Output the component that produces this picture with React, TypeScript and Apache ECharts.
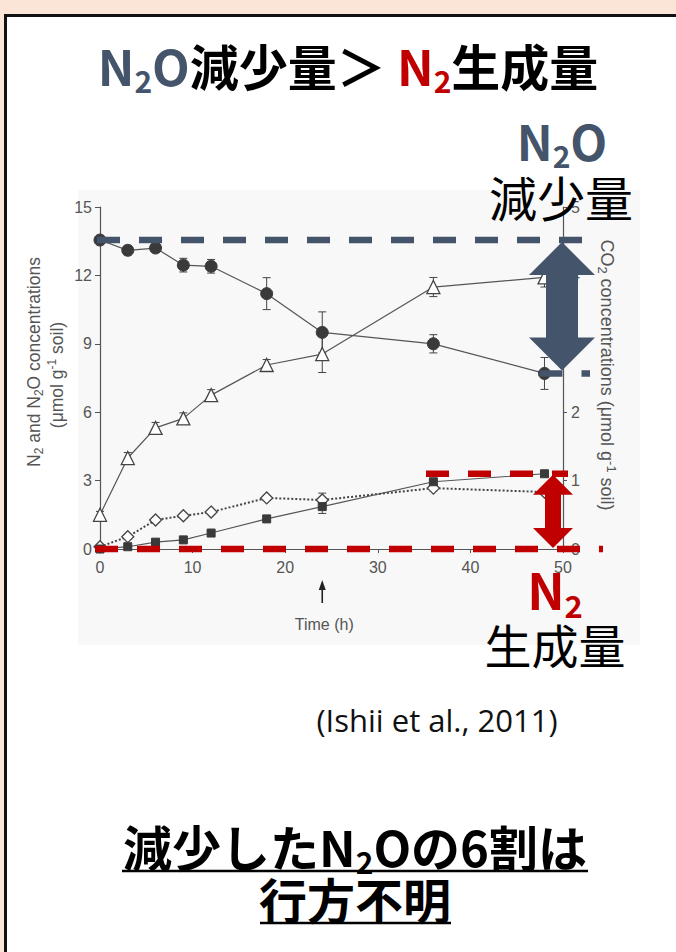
import React, { useEffect, useRef } from "react";
import * as echarts from "echarts";

// ---- data ----
const timeH = [0, 3, 6, 9, 12, 18, 24, 36, 48];
const n2oConc = [13.55, 13.1, 13.2, 12.45, 12.4, 11.2, 9.5, 9.0, 7.7];
const n2oErr = [0.1, 0.2, 0.15, 0.3, 0.3, 0.7, 0.9, 0.4, 0.7];
const co2Conc = [0.5, 1.33, 1.77, 1.91, 2.25, 2.69, 2.85, 3.83, 3.97];
const co2Err = [0.05, 0.08, 0.08, 0.08, 0.08, 0.08, 0.27, 0.14, 0.14];
const diamondConc = [0.1, 0.54, 1.27, 1.46, 1.62, 2.24, 2.15, 2.67, 2.5];
const diamondErr = [0.05, 0.1, 0.1, 0.1, 0.1, 0.1, 0.3, 0.12, 0.1];
const n2Conc = [0, 0.1, 0.3, 0.4, 0.7, 1.32, 1.86, 2.95, 3.3];
const n2Err = [0, 0.05, 0.05, 0.05, 0.08, 0.1, 0.3, 0.12, 0.12];
const markedTime = 24;

const BLUE = "#44546A";
const RED = "#C00000";
const CJK = '"Noto Sans CJK JP", "Noto Sans", sans-serif';
const SANS = '"Liberation Sans", Arial, sans-serif';
const AX = "#555";

function errorSeries(vals: number[], errs: number[], yAxisIndex: number) {
  return {
    type: "custom",
    yAxisIndex,
    silent: true,
    z: 3,
    data: timeH.map((t, i) => [t, vals[i] - errs[i], vals[i] + errs[i]]),
    renderItem: (_p: any, api: any) => {
      const x = api.value(0);
      const a = api.coord([x, api.value(1)]);
      const b = api.coord([x, api.value(2)]);
      const w = 4;
      const st = { stroke: "#444", lineWidth: 1 };
      return {
        type: "group",
        children: [
          { type: "line", shape: { x1: a[0], y1: a[1], x2: b[0], y2: b[1] }, style: st },
          { type: "line", shape: { x1: a[0] - w, y1: a[1], x2: a[0] + w, y2: a[1] }, style: st },
          { type: "line", shape: { x1: b[0] - w, y1: b[1], x2: b[0] + w, y2: b[1] }, style: st },
        ],
      };
    },
  };
}

function rs(size: number, color: string, weight: string, kind: "main" | "sub" | "sup" = "main") {
  if (kind === "main") {
    return { fontSize: size, fontFamily: CJK, fontWeight: weight, fill: color, color, lineHeight: Math.round(size * 1.25), verticalAlign: "middle" };
  }
  const s = Math.round(size * 0.62);
  return { fontSize: s, fontFamily: CJK, fontWeight: weight, fill: color, color, lineHeight: s, verticalAlign: kind === "sub" ? "bottom" : "top" };
}

function rsSans(size: number, kind: "main" | "sub" | "sup" = "main") {
  if (kind === "main") return { fontSize: size, fontFamily: SANS, fill: AX, color: AX, lineHeight: size + 4, verticalAlign: "middle" };
  const s = Math.round(size * 0.7);
  return { fontSize: s, fontFamily: SANS, fill: AX, color: AX, lineHeight: s, verticalAlign: kind === "sub" ? "bottom" : "top" };
}

export default function App() {
  const ref = useRef<HTMLDivElement>(null);

  useEffect(() => {
    if (!ref.current) return;
    const chart = echarts.init(ref.current, null, { renderer: "svg", width: 676, height: 952 });
    const axisLabel = { color: AX, fontFamily: SANS, fontSize: 16 };
    chart.setOption({
      animation: false,
      grid: { left: 100, right: 113, top: 207, bottom: 403, containLabel: false, outerBoundsMode: "none" },
      xAxis: {
        type: "value", min: 0, max: 50, interval: 10,
        axisLine: { lineStyle: { color: AX, width: 1.2 } },
        axisTick: { show: true, length: 4, lineStyle: { color: AX } },
        axisLabel: { ...axisLabel, margin: 10 },
        splitLine: { show: false },
      },
      yAxis: [
        {
          type: "value", min: 0, max: 15, interval: 3, position: "left",
          axisLine: { show: true, lineStyle: { color: AX, width: 1.2 } },
          axisTick: { show: true, length: 5, lineStyle: { color: AX } },
          axisLabel: { ...axisLabel, margin: 8 },
          splitLine: { show: false },
        },
        {
          type: "value", min: 0, max: 5, interval: 1, position: "right",
          axisLine: { show: true, lineStyle: { color: AX, width: 1.2 } },
          axisTick: { show: true, length: 4, lineStyle: { color: AX } },
          axisLabel: { ...axisLabel, margin: 8 },
          splitLine: { show: false },
        },
      ],
      series: [
        errorSeries(n2oConc, n2oErr, 0),
        errorSeries(co2Conc, co2Err, 1),
        errorSeries(diamondConc, diamondErr, 0),
        errorSeries(n2Conc, n2Err, 0),
        {
          type: "line", name: "N2O", data: timeH.map((t, i) => [t, n2oConc[i]]),
          symbol: "circle", symbolSize: 12, z: 4,
          itemStyle: { color: "#3a3a3a", borderColor: "#3a3a3a" },
          lineStyle: { color: "#555", width: 1.2 },
        },
        {
          type: "line", name: "CO2", yAxisIndex: 1, data: timeH.map((t, i) => [t, co2Conc[i]]),
          symbol: "triangle", symbolSize: 13, z: 4,
          itemStyle: { color: "#fff", borderColor: "#444", borderWidth: 1.3 },
          lineStyle: { color: "#555", width: 1.2 },
        },
        {
          type: "line", name: "open", data: timeH.map((t, i) => [t, diamondConc[i]]),
          symbol: "diamond", symbolSize: 12, z: 4,
          itemStyle: { color: "#fff", borderColor: "#444", borderWidth: 1.3 },
          lineStyle: { color: "#444", width: 2, type: "dotted" },
        },
        {
          type: "line", name: "N2", data: timeH.map((t, i) => [t, n2Conc[i]]),
          symbol: "rect", symbolSize: 8, z: 4,
          itemStyle: { color: "#3a3a3a", borderColor: "#3a3a3a" },
          lineStyle: { color: "#555", width: 1.2 },
        },
      ],
    });

    const px = (x: number, y: number) => chart.convertToPixel({ gridIndex: 0 } as any, [x, y]) as number[];
    const last = timeH.length - 1;
    const [x0, y0] = px(0, 0);
    const x50 = px(50, 0)[0];
    const yTop = px(0, n2oConc[0])[1];
    const yBot = px(0, n2oConc[last])[1];
    const yN2 = px(0, n2Conc[last])[1];
    const x48 = px(timeH[last], 0)[0];
    const xMark = px(markedTime, 0)[0];

    // blue double arrow
    const bc = x50 - 1, bt = yTop + 2, bb = yBot - 3, bh = 33, bw = 16, bhw = 33;
    const blueArrow = [
      [bc, bt], [bc + bhw, bt + bh], [bc + bw, bt + bh], [bc + bw, bb - bh], [bc + bhw, bb - bh],
      [bc, bb], [bc - bhw, bb - bh], [bc - bw, bb - bh], [bc - bw, bt + bh], [bc - bhw, bt + bh],
    ];
    const rc = x50 - 10, rt = yN2 + 1, rb = y0 - 1, rh = 20, rw = 8, rhw = 20;
    const redArrow = [
      [rc, rt], [rc + rhw, rt + rh], [rc + rw, rt + rh], [rc + rw, rb - rh], [rc + rhw, rb - rh],
      [rc, rb], [rc - rhw, rb - rh], [rc - rw, rb - rh], [rc - rw, rt + rh], [rc - rhw, rt + rh],
    ];

    const graphic: any[] = [
      // dashed guide lines
      { type: "line", z: 100, shape: { x1: x0 - 3, y1: yTop, x2: x50 + 19, y2: yTop }, style: { stroke: BLUE, lineWidth: 6.5, lineDash: [23, 19] } },
      { type: "line", z: 100, shape: { x1: x48 - 5, y1: yBot, x2: x50 + 27, y2: yBot }, style: { stroke: BLUE, lineWidth: 6.5, lineDash: [23, 19] } },
      { type: "line", z: 100, shape: { x1: x0 - 5, y1: y0, x2: x50 + 40, y2: y0 }, style: { stroke: RED, lineWidth: 6.5, lineDash: [23, 19] } },
      { type: "line", z: 100, shape: { x1: x50 - 137, y1: yN2, x2: x50 + 5, y2: yN2 }, style: { stroke: RED, lineWidth: 6.5, lineDash: [23, 19] } },
      { type: "polygon", z: 101, shape: { points: blueArrow }, style: { fill: BLUE } },
      { type: "polygon", z: 101, shape: { points: redArrow }, style: { fill: RED } },
      // time marker arrow
      { type: "line", z: 100, shape: { x1: xMark, y1: 603, x2: xMark, y2: 588 }, style: { stroke: "#222", lineWidth: 1.6 } },
      { type: "polygon", z: 100, shape: { points: [[xMark, 580], [xMark - 3.5, 590], [xMark + 3.5, 590]] }, style: { fill: "#222" } },
      {
        type: "text", z: 100, x: xMark + 2, y: 624,
        style: { text: "Time (h)", fontFamily: SANS, fontSize: 16, fill: AX, align: "center", verticalAlign: "middle" },
      },
      // axis names
      {
        type: "text", z: 100, x: 34, y: 362, rotation: Math.PI / 2,
        style: {
          text: "{m|N}{s|2}{m| and N}{s|2}{m|O concentrations}",
          rich: { m: rsSans(17.5), s: rsSans(17.5, "sub") }, align: "center", verticalAlign: "middle",
        },
      },
      {
        type: "text", z: 100, x: 57, y: 375, rotation: Math.PI / 2,
        style: {
          text: "{m|(μmol g}{u|-1}{m| soil)}",
          rich: { m: rsSans(17.5), u: rsSans(17.5, "sup") }, align: "center", verticalAlign: "middle",
        },
      },
      {
        type: "text", z: 100, x: 607, y: 375, rotation: -Math.PI / 2,
        style: {
          text: "{m|CO}{s|2}{m| concentrations (μmol g}{u|-1}{m| soil)}",
          rich: { m: rsSans(18), s: rsSans(18, "sub"), u: rsSans(18, "sup") }, align: "center", verticalAlign: "middle",
        },
      },
      // title
      {
        type: "text", z: 100, x: 348, y: 64,
        style: {
          text: "{b|N}{bs|2}{b|O}{k|減少量＞ }{r|N}{rs|2}{k|生成量}",
          rich: {
            b: rs(49, BLUE, "bold"), bs: rs(49, BLUE, "bold", "sub"),
            k: rs(49, "#000", "bold"), r: rs(49, RED, "bold"), rs: rs(49, RED, "bold", "sub"),
          },
          align: "center", verticalAlign: "middle",
        },
      },
      // right side labels
      {
        type: "text", z: 102, x: 562, y: 140,
        style: { text: "{b|N}{bs|2}{b|O}", rich: { b: rs(48, BLUE, "bold"), bs: rs(48, BLUE, "bold", "sub") }, align: "center", verticalAlign: "middle" },
      },
      {
        type: "text", z: 102, x: 561, y: 196,
        style: { text: "減少量", fontFamily: CJK, fontSize: 48, fontWeight: "normal", fill: "#000", align: "center", verticalAlign: "middle" },
      },
      {
        type: "text", z: 102, x: 555, y: 588,
        style: { text: "{r|N}{rs|2}", rich: { r: rs(50, RED, "bold"), rs: rs(50, RED, "bold", "sub") }, align: "center", verticalAlign: "middle" },
      },
      {
        type: "text", z: 102, x: 555, y: 643,
        style: { text: "生成量", fontFamily: CJK, fontSize: 47, fontWeight: "normal", fill: "#000", align: "center", verticalAlign: "middle" },
      },
      // citation
      {
        type: "text", z: 100, x: 437, y: 720,
        style: { text: "(Ishii et al., 2011)", fontFamily: '"Open Sans", sans-serif', fontSize: 31, fill: "#111", align: "center", verticalAlign: "middle" },
      },
      // conclusion
      {
        type: "text", z: 100, x: 355, y: 845,
        style: {
          text: "{k|減少したN}{s|2}{k|Oの6割は}",
          rich: { k: rs(49, "#000", "bold"), s: rs(49, "#000", "bold", "sub") },
          align: "center", verticalAlign: "middle",
        },
      },
      { type: "line", z: 100, shape: { x1: 122, y1: 871, x2: 588, y2: 871 }, style: { stroke: "#000", lineWidth: 2.5 } },
      {
        type: "text", z: 100, x: 355, y: 898,
        style: { text: "行方不明", fontFamily: CJK, fontSize: 48, fontWeight: "bold", fill: "#000", align: "center", verticalAlign: "middle" },
      },
      { type: "line", z: 100, shape: { x1: 260, y1: 923, x2: 451, y2: 923 }, style: { stroke: "#000", lineWidth: 2.5 } },
    ];
    chart.setOption({ graphic });

    return () => chart.dispose();
  }, []);

  return (
    <div style={{ position: "fixed", left: 0, top: 0, width: 676, height: 952, background: "#FBE5D6", overflow: "hidden" }}>
      <div style={{ position: "absolute", left: 4, top: 14, width: 720, height: 1000, background: "#fff", borderLeft: "3px solid #111", borderTop: "3px solid #111" }} />
      <div style={{ position: "absolute", left: 78, top: 190, width: 562, height: 455, background: "#f8f8f8" }} />
      <div ref={ref} style={{ position: "absolute", left: 0, top: 0, width: 676, height: 952 }} />
    </div>
  );
}
